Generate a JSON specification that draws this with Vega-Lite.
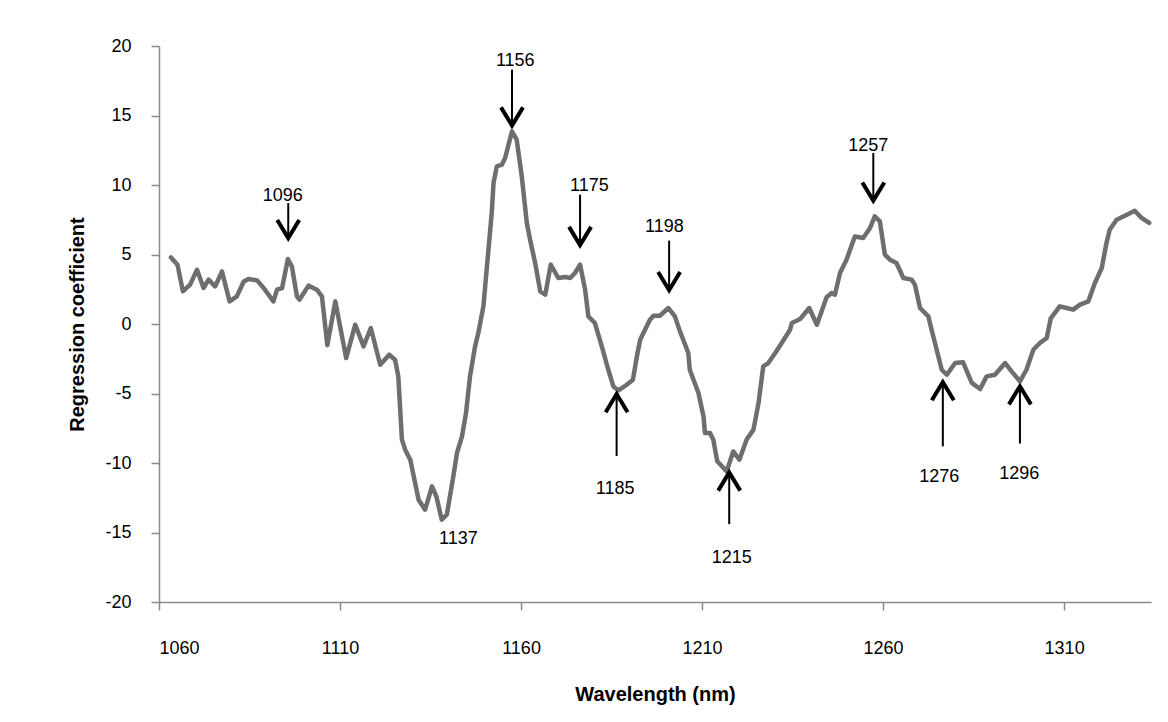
{
  "$schema": "https://vega.github.io/schema/vega-lite/v6.json",
  "width": 992,
  "height": 556,
  "autosize": "none",
  "padding": {"left": 159, "top": 46, "right": 17, "bottom": 120},
  "background": "white",
  "config": {
    "view": {"stroke": null},
    "font": "Liberation Sans",
    "axis": {
      "domainColor": "#8a8a8a",
      "domainWidth": 1.5,
      "tickColor": "#8a8a8a",
      "tickWidth": 1.5,
      "tickSize": 8,
      "grid": false,
      "labelFont": "Liberation Sans",
      "labelFontSize": 18,
      "labelColor": "#000000",
      "titleFont": "Liberation Sans",
      "titleFontSize": 20,
      "titleFontWeight": "bold",
      "titleColor": "#000000"
    }
  },
  "datasets": {
    "curve": [
      {"wl": 1063.3, "v": 4.79}, {"wl": 1065.1, "v": 4.27}, {"wl": 1066.6, "v": 2.35}, {"wl": 1068.6, "v": 2.83},
      {"wl": 1070.5, "v": 3.90}, {"wl": 1072.3, "v": 2.59}, {"wl": 1073.7, "v": 3.19}, {"wl": 1075.5, "v": 2.70},
      {"wl": 1077.4, "v": 3.78}, {"wl": 1079.5, "v": 1.63}, {"wl": 1081.5, "v": 1.99}, {"wl": 1083.4, "v": 3.06},
      {"wl": 1084.7, "v": 3.24}, {"wl": 1087.1, "v": 3.14}, {"wl": 1088.9, "v": 2.59}, {"wl": 1091.6, "v": 1.63},
      {"wl": 1092.6, "v": 2.47}, {"wl": 1094.0, "v": 2.59}, {"wl": 1095.6, "v": 4.68}, {"wl": 1096.7, "v": 4.14},
      {"wl": 1098.1, "v": 1.99}, {"wl": 1098.8, "v": 1.75}, {"wl": 1101.3, "v": 2.76}, {"wl": 1103.6, "v": 2.47},
      {"wl": 1105.0, "v": 1.99}, {"wl": 1106.5, "v": -1.52}, {"wl": 1108.7, "v": 1.63}, {"wl": 1111.7, "v": -2.45},
      {"wl": 1114.2, "v": -0.05}, {"wl": 1116.5, "v": -1.61}, {"wl": 1118.5, "v": -0.29}, {"wl": 1121.1, "v": -2.93},
      {"wl": 1123.6, "v": -2.21}, {"wl": 1125.2, "v": -2.57}, {"wl": 1126.1, "v": -3.77}, {"wl": 1127.1, "v": -8.32},
      {"wl": 1128.0, "v": -9.04}, {"wl": 1129.4, "v": -9.76}, {"wl": 1131.7, "v": -12.64}, {"wl": 1133.5, "v": -13.36},
      {"wl": 1135.4, "v": -11.68}, {"wl": 1136.6, "v": -12.40}, {"wl": 1138.1, "v": -14.08}, {"wl": 1139.5, "v": -13.72},
      {"wl": 1141.3, "v": -10.96}, {"wl": 1142.3, "v": -9.28}, {"wl": 1143.7, "v": -8.09}, {"wl": 1144.8, "v": -6.40},
      {"wl": 1145.9, "v": -3.77}, {"wl": 1147.3, "v": -1.61}, {"wl": 1148.2, "v": -0.65}, {"wl": 1149.6, "v": 1.27},
      {"wl": 1151.9, "v": 7.99}, {"wl": 1152.4, "v": 10.14}, {"wl": 1153.3, "v": 11.34}, {"wl": 1154.7, "v": 11.46},
      {"wl": 1155.6, "v": 11.94}, {"wl": 1157.5, "v": 13.86}, {"wl": 1158.8, "v": 13.26}, {"wl": 1160.2, "v": 10.62},
      {"wl": 1161.6, "v": 7.27}, {"wl": 1162.5, "v": 6.06}, {"wl": 1163.9, "v": 4.39}, {"wl": 1165.3, "v": 2.35},
      {"wl": 1166.7, "v": 2.11}, {"wl": 1168.2, "v": 4.27}, {"wl": 1170.3, "v": 3.31}, {"wl": 1172.2, "v": 3.38},
      {"wl": 1173.6, "v": 3.31}, {"wl": 1174.9, "v": 3.67}, {"wl": 1176.3, "v": 4.27}, {"wl": 1177.7, "v": 2.47},
      {"wl": 1178.6, "v": 0.55}, {"wl": 1180.4, "v": 0.07}, {"wl": 1182.3, "v": -1.61}, {"wl": 1184.1, "v": -3.29},
      {"wl": 1185.5, "v": -4.49}, {"wl": 1186.9, "v": -4.78}, {"wl": 1189.2, "v": -4.37}, {"wl": 1190.9, "v": -4.01},
      {"wl": 1192.0, "v": -2.33}, {"wl": 1192.9, "v": -1.13}, {"wl": 1193.8, "v": -0.65}, {"wl": 1195.6, "v": 0.31},
      {"wl": 1196.6, "v": 0.60}, {"wl": 1198.4, "v": 0.60}, {"wl": 1200.7, "v": 1.15}, {"wl": 1202.5, "v": 0.55},
      {"wl": 1203.9, "v": -0.53}, {"wl": 1204.8, "v": -1.13}, {"wl": 1206.2, "v": -2.09}, {"wl": 1206.6, "v": -3.29},
      {"wl": 1209.0, "v": -4.96}, {"wl": 1210.4, "v": -6.65}, {"wl": 1210.8, "v": -7.84}, {"wl": 1212.2, "v": -7.84},
      {"wl": 1213.1, "v": -8.32}, {"wl": 1214.2, "v": -9.88}, {"wl": 1216.8, "v": -10.60}, {"wl": 1218.6, "v": -9.17},
      {"wl": 1220.3, "v": -9.76}, {"wl": 1222.3, "v": -8.32}, {"wl": 1224.2, "v": -7.60}, {"wl": 1225.6, "v": -5.68},
      {"wl": 1226.9, "v": -3.05}, {"wl": 1228.3, "v": -2.81}, {"wl": 1230.2, "v": -2.09}, {"wl": 1232.0, "v": -1.37},
      {"wl": 1234.3, "v": -0.41}, {"wl": 1234.8, "v": 0.07}, {"wl": 1237.1, "v": 0.36}, {"wl": 1239.6, "v": 1.15},
      {"wl": 1241.7, "v": -0.05}, {"wl": 1244.4, "v": 1.93}, {"wl": 1245.8, "v": 2.23}, {"wl": 1246.7, "v": 2.11},
      {"wl": 1248.1, "v": 3.67}, {"wl": 1249.9, "v": 4.63}, {"wl": 1252.2, "v": 6.30}, {"wl": 1254.5, "v": 6.19},
      {"wl": 1256.4, "v": 6.91}, {"wl": 1257.7, "v": 7.74}, {"wl": 1259.1, "v": 7.38}, {"wl": 1260.5, "v": 4.99},
      {"wl": 1261.9, "v": 4.63}, {"wl": 1263.7, "v": 4.39}, {"wl": 1265.6, "v": 3.31}, {"wl": 1267.9, "v": 3.19},
      {"wl": 1268.8, "v": 2.83}, {"wl": 1270.2, "v": 1.15}, {"wl": 1272.5, "v": 0.55}, {"wl": 1273.4, "v": -0.41},
      {"wl": 1274.8, "v": -1.85}, {"wl": 1276.2, "v": -3.29}, {"wl": 1277.6, "v": -3.65}, {"wl": 1279.9, "v": -2.81},
      {"wl": 1282.1, "v": -2.76}, {"wl": 1284.5, "v": -4.24}, {"wl": 1286.8, "v": -4.68}, {"wl": 1288.6, "v": -3.77},
      {"wl": 1290.9, "v": -3.65}, {"wl": 1293.7, "v": -2.81}, {"wl": 1295.5, "v": -3.41}, {"wl": 1297.8, "v": -4.13},
      {"wl": 1299.6, "v": -3.29}, {"wl": 1301.5, "v": -1.85}, {"wl": 1303.3, "v": -1.37}, {"wl": 1305.2, "v": -1.01},
      {"wl": 1306.3, "v": 0.40}, {"wl": 1308.8, "v": 1.27}, {"wl": 1310.7, "v": 1.15}, {"wl": 1312.5, "v": 1.03},
      {"wl": 1314.4, "v": 1.39}, {"wl": 1316.7, "v": 1.63}, {"wl": 1318.5, "v": 2.95}, {"wl": 1320.4, "v": 4.03},
      {"wl": 1321.7, "v": 5.83}, {"wl": 1322.6, "v": 6.78}, {"wl": 1324.5, "v": 7.50}, {"wl": 1326.8, "v": 7.79},
      {"wl": 1329.5, "v": 8.15}, {"wl": 1331.4, "v": 7.63}, {"wl": 1333.5, "v": 7.27}
    ],
    "arrows": [
      {"peak": "1096", "wl": 1095.7, "tip": 6.1, "tail": 8.7, "dir": "down"},
      {"peak": "1156", "wl": 1157.5, "tip": 14.2, "tail": 18.3, "dir": "down"},
      {"peak": "1175", "wl": 1176.3, "tip": 5.6, "tail": 9.3, "dir": "down"},
      {"peak": "1198", "wl": 1200.9, "tip": 2.35, "tail": 6.0, "dir": "down"},
      {"peak": "1257", "wl": 1257.3, "tip": 8.8, "tail": 12.3, "dir": "down"},
      {"peak": "1185", "wl": 1186.4, "tip": -4.96, "tail": -9.5, "dir": "up"},
      {"peak": "1215", "wl": 1217.5, "tip": -10.6, "tail": -14.4, "dir": "up"},
      {"peak": "1276", "wl": 1276.5, "tip": -4.1, "tail": -8.8, "dir": "up"},
      {"peak": "1296", "wl": 1297.8, "tip": -4.4, "tail": -8.6, "dir": "up"}
    ],
    "labels": [
      {"peak": "1096", "wl": 1094.2, "v": 9.2},
      {"peak": "1156", "wl": 1158.4, "v": 18.9},
      {"peak": "1175", "wl": 1178.9, "v": 9.9},
      {"peak": "1198", "wl": 1199.6, "v": 7.0},
      {"peak": "1257", "wl": 1255.9, "v": 12.8},
      {"peak": "1185", "wl": 1186.0, "v": -11.9},
      {"peak": "1215", "wl": 1218.2, "v": -16.8},
      {"peak": "1276", "wl": 1275.5, "v": -11.0},
      {"peak": "1296", "wl": 1297.6, "v": -10.8},
      {"peak": "1137", "wl": 1142.7, "v": -15.5}
    ]
  },
  "layer": [
    {
      "data": {"name": "curve"},
      "mark": {"type": "line", "color": "#6e6e6e", "strokeWidth": 4.5, "strokeJoin": "round", "strokeCap": "round"},
      "encoding": {
        "x": {
          "field": "wl", "type": "quantitative",
          "scale": {"domain": [1060, 1334], "nice": false, "zero": false},
          "axis": {"values": [1060, 1110, 1160, 1210, 1260, 1310], "labelExpr": "datum.value + ''", "title": "Wavelength (nm)", "labelPadding": 29, "titlePadding": 27}
        },
        "y": {
          "field": "v", "type": "quantitative",
          "scale": {"domain": [-20, 20], "nice": false},
          "axis": {"values": [-20, -15, -10, -5, 0, 5, 10, 15, 20], "labelExpr": "datum.value + ''", "title": "Regression coefficient", "labelPadding": 20, "titlePadding": 17}
        }
      }
    },
    {
      "mark": {"type": "rule", "color": "#000000", "strokeWidth": 1.2},
      "encoding": {"y": {"datum": 0}}
    },
    {
      "data": {"name": "arrows"},
      "mark": {"type": "rule", "color": "#000000", "strokeWidth": 2},
      "encoding": {
        "x": {"field": "wl", "type": "quantitative"},
        "y": {"field": "tail", "type": "quantitative"},
        "y2": {"field": "tip"}
      }
    },
    {
      "data": {"name": "arrows"},
      "mark": {"type": "point", "filled": false, "color": "#000000", "strokeWidth": 4, "opacity": 1, "size": 484, "strokeJoin": "miter"},
      "encoding": {
        "x": {"field": "wl", "type": "quantitative"},
        "y": {"field": "tip", "type": "quantitative"},
        "shape": {
          "field": "dir", "type": "nominal",
          "scale": {"domain": ["down", "up"], "range": ["M-1,-1.75L0,-0.1L1,-1.75", "M-1,1.75L0,0.1L1,1.75"]},
          "legend": null
        }
      }
    },
    {
      "data": {"name": "labels"},
      "mark": {"type": "text", "fontSize": 18, "font": "Liberation Sans", "color": "#000000", "align": "center", "baseline": "middle"},
      "encoding": {
        "x": {"field": "wl", "type": "quantitative"},
        "y": {"field": "v", "type": "quantitative"},
        "text": {"field": "peak"}
      }
    }
  ]
}
